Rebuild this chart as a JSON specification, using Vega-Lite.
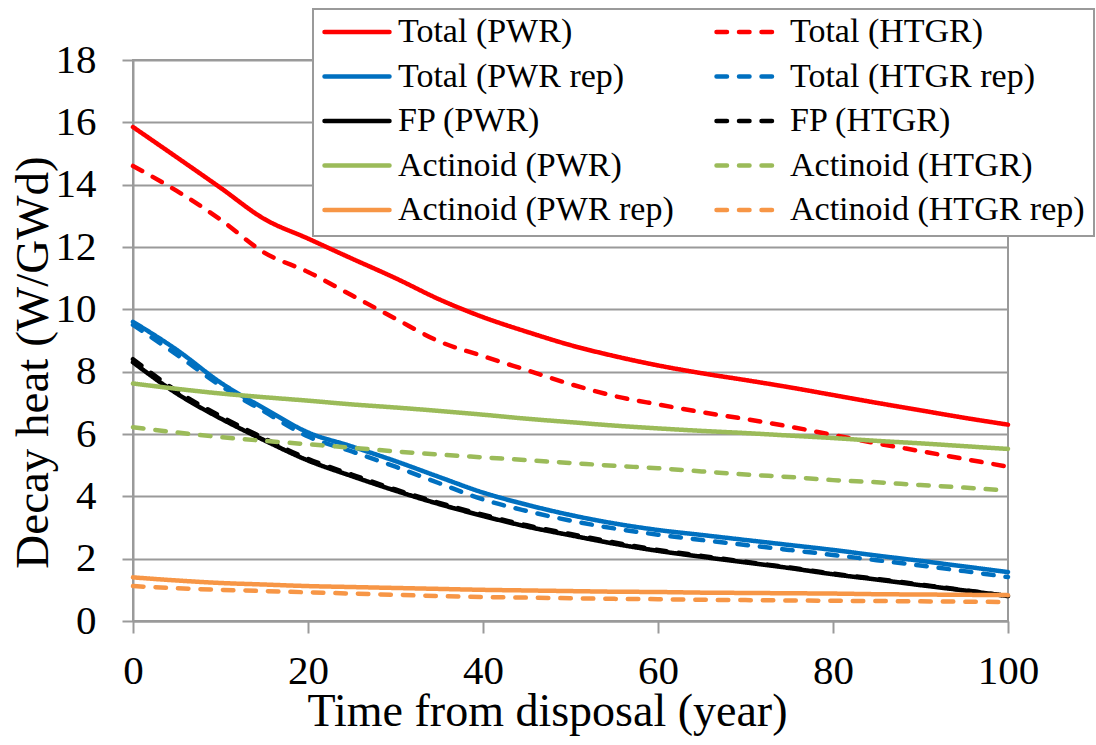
{
  "$schema": "https://vega.github.io/schema/vega-lite/v6.json",
  "width": 875,
  "height": 561,
  "autosize": {"type": "none"},
  "padding": {"left": 133, "top": 60, "right": 88, "bottom": 124},
  "background": "white",
  "config": {
    "font": "Times New Roman",
    "view": {"stroke": "#9a9a9a", "strokeWidth": 2}
  },
  "data": {"values": [
    {"t":0,"s":"Total (PWR)","v":15.85},{"t":5,"s":"Total (PWR)","v":14.88},{"t":10,"s":"Total (PWR)","v":13.9},{"t":15,"s":"Total (PWR)","v":12.9},{"t":20,"s":"Total (PWR)","v":12.27},{"t":25,"s":"Total (PWR)","v":11.63},{"t":30,"s":"Total (PWR)","v":11.0},{"t":35,"s":"Total (PWR)","v":10.32},{"t":40,"s":"Total (PWR)","v":9.75},{"t":45,"s":"Total (PWR)","v":9.28},{"t":50,"s":"Total (PWR)","v":8.85},{"t":55,"s":"Total (PWR)","v":8.5},{"t":60,"s":"Total (PWR)","v":8.2},{"t":65,"s":"Total (PWR)","v":7.95},{"t":70,"s":"Total (PWR)","v":7.73},{"t":75,"s":"Total (PWR)","v":7.5},{"t":80,"s":"Total (PWR)","v":7.25},{"t":85,"s":"Total (PWR)","v":7.0},{"t":90,"s":"Total (PWR)","v":6.76},{"t":95,"s":"Total (PWR)","v":6.52},{"t":100,"s":"Total (PWR)","v":6.3},
    {"t":0,"s":"Total (HTGR)","v":14.6},{"t":5,"s":"Total (HTGR)","v":13.8},{"t":10,"s":"Total (HTGR)","v":12.88},{"t":15,"s":"Total (HTGR)","v":11.82},{"t":20,"s":"Total (HTGR)","v":11.2},{"t":25,"s":"Total (HTGR)","v":10.45},{"t":30,"s":"Total (HTGR)","v":9.7},{"t":35,"s":"Total (HTGR)","v":8.97},{"t":40,"s":"Total (HTGR)","v":8.5},{"t":45,"s":"Total (HTGR)","v":8.05},{"t":50,"s":"Total (HTGR)","v":7.6},{"t":55,"s":"Total (HTGR)","v":7.22},{"t":60,"s":"Total (HTGR)","v":6.95},{"t":65,"s":"Total (HTGR)","v":6.7},{"t":70,"s":"Total (HTGR)","v":6.48},{"t":75,"s":"Total (HTGR)","v":6.24},{"t":80,"s":"Total (HTGR)","v":5.97},{"t":85,"s":"Total (HTGR)","v":5.7},{"t":90,"s":"Total (HTGR)","v":5.45},{"t":95,"s":"Total (HTGR)","v":5.2},{"t":100,"s":"Total (HTGR)","v":4.95},
    {"t":0,"s":"Total (PWR rep)","v":9.6},{"t":5,"s":"Total (PWR rep)","v":8.7},{"t":10,"s":"Total (PWR rep)","v":7.65},{"t":15,"s":"Total (PWR rep)","v":6.82},{"t":20,"s":"Total (PWR rep)","v":6.05},{"t":25,"s":"Total (PWR rep)","v":5.6},{"t":30,"s":"Total (PWR rep)","v":5.13},{"t":35,"s":"Total (PWR rep)","v":4.62},{"t":40,"s":"Total (PWR rep)","v":4.12},{"t":45,"s":"Total (PWR rep)","v":3.73},{"t":50,"s":"Total (PWR rep)","v":3.4},{"t":55,"s":"Total (PWR rep)","v":3.13},{"t":60,"s":"Total (PWR rep)","v":2.92},{"t":65,"s":"Total (PWR rep)","v":2.76},{"t":70,"s":"Total (PWR rep)","v":2.6},{"t":75,"s":"Total (PWR rep)","v":2.44},{"t":80,"s":"Total (PWR rep)","v":2.28},{"t":85,"s":"Total (PWR rep)","v":2.1},{"t":90,"s":"Total (PWR rep)","v":1.93},{"t":95,"s":"Total (PWR rep)","v":1.75},{"t":100,"s":"Total (PWR rep)","v":1.57},
    {"t":0,"s":"Total (HTGR rep)","v":9.5},{"t":5,"s":"Total (HTGR rep)","v":8.55},{"t":10,"s":"Total (HTGR rep)","v":7.55},{"t":15,"s":"Total (HTGR rep)","v":6.72},{"t":20,"s":"Total (HTGR rep)","v":5.92},{"t":25,"s":"Total (HTGR rep)","v":5.44},{"t":30,"s":"Total (HTGR rep)","v":4.95},{"t":35,"s":"Total (HTGR rep)","v":4.42},{"t":40,"s":"Total (HTGR rep)","v":3.9},{"t":45,"s":"Total (HTGR rep)","v":3.53},{"t":50,"s":"Total (HTGR rep)","v":3.22},{"t":55,"s":"Total (HTGR rep)","v":2.97},{"t":60,"s":"Total (HTGR rep)","v":2.77},{"t":65,"s":"Total (HTGR rep)","v":2.6},{"t":70,"s":"Total (HTGR rep)","v":2.44},{"t":75,"s":"Total (HTGR rep)","v":2.28},{"t":80,"s":"Total (HTGR rep)","v":2.12},{"t":85,"s":"Total (HTGR rep)","v":1.95},{"t":90,"s":"Total (HTGR rep)","v":1.78},{"t":95,"s":"Total (HTGR rep)","v":1.6},{"t":100,"s":"Total (HTGR rep)","v":1.41},
    {"t":0,"s":"FP (PWR)","v":8.3},{"t":5,"s":"FP (PWR)","v":7.3},{"t":10,"s":"FP (PWR)","v":6.5},{"t":15,"s":"FP (PWR)","v":5.8},{"t":20,"s":"FP (PWR)","v":5.15},{"t":25,"s":"FP (PWR)","v":4.65},{"t":30,"s":"FP (PWR)","v":4.18},{"t":35,"s":"FP (PWR)","v":3.75},{"t":40,"s":"FP (PWR)","v":3.37},{"t":45,"s":"FP (PWR)","v":3.03},{"t":50,"s":"FP (PWR)","v":2.75},{"t":55,"s":"FP (PWR)","v":2.48},{"t":60,"s":"FP (PWR)","v":2.25},{"t":65,"s":"FP (PWR)","v":2.06},{"t":70,"s":"FP (PWR)","v":1.88},{"t":75,"s":"FP (PWR)","v":1.7},{"t":80,"s":"FP (PWR)","v":1.5},{"t":85,"s":"FP (PWR)","v":1.33},{"t":90,"s":"FP (PWR)","v":1.15},{"t":95,"s":"FP (PWR)","v":0.98},{"t":100,"s":"FP (PWR)","v":0.8},
    {"t":0,"s":"FP (HTGR)","v":8.4},{"t":5,"s":"FP (HTGR)","v":7.38},{"t":10,"s":"FP (HTGR)","v":6.57},{"t":15,"s":"FP (HTGR)","v":5.86},{"t":20,"s":"FP (HTGR)","v":5.2},{"t":25,"s":"FP (HTGR)","v":4.7},{"t":30,"s":"FP (HTGR)","v":4.22},{"t":35,"s":"FP (HTGR)","v":3.79},{"t":40,"s":"FP (HTGR)","v":3.41},{"t":45,"s":"FP (HTGR)","v":3.07},{"t":50,"s":"FP (HTGR)","v":2.79},{"t":55,"s":"FP (HTGR)","v":2.52},{"t":60,"s":"FP (HTGR)","v":2.28},{"t":65,"s":"FP (HTGR)","v":2.09},{"t":70,"s":"FP (HTGR)","v":1.9},{"t":75,"s":"FP (HTGR)","v":1.72},{"t":80,"s":"FP (HTGR)","v":1.52},{"t":85,"s":"FP (HTGR)","v":1.35},{"t":90,"s":"FP (HTGR)","v":1.17},{"t":95,"s":"FP (HTGR)","v":0.99},{"t":100,"s":"FP (HTGR)","v":0.8},
    {"t":0,"s":"Actinoid (PWR)","v":7.62},{"t":5,"s":"Actinoid (PWR)","v":7.45},{"t":10,"s":"Actinoid (PWR)","v":7.3},{"t":15,"s":"Actinoid (PWR)","v":7.18},{"t":20,"s":"Actinoid (PWR)","v":7.07},{"t":25,"s":"Actinoid (PWR)","v":6.95},{"t":30,"s":"Actinoid (PWR)","v":6.85},{"t":35,"s":"Actinoid (PWR)","v":6.74},{"t":40,"s":"Actinoid (PWR)","v":6.62},{"t":45,"s":"Actinoid (PWR)","v":6.49},{"t":50,"s":"Actinoid (PWR)","v":6.38},{"t":55,"s":"Actinoid (PWR)","v":6.27},{"t":60,"s":"Actinoid (PWR)","v":6.18},{"t":65,"s":"Actinoid (PWR)","v":6.1},{"t":70,"s":"Actinoid (PWR)","v":6.03},{"t":75,"s":"Actinoid (PWR)","v":5.95},{"t":80,"s":"Actinoid (PWR)","v":5.87},{"t":85,"s":"Actinoid (PWR)","v":5.78},{"t":90,"s":"Actinoid (PWR)","v":5.7},{"t":95,"s":"Actinoid (PWR)","v":5.61},{"t":100,"s":"Actinoid (PWR)","v":5.52},
    {"t":0,"s":"Actinoid (HTGR)","v":6.22},{"t":5,"s":"Actinoid (HTGR)","v":6.05},{"t":10,"s":"Actinoid (HTGR)","v":5.9},{"t":15,"s":"Actinoid (HTGR)","v":5.78},{"t":20,"s":"Actinoid (HTGR)","v":5.67},{"t":25,"s":"Actinoid (HTGR)","v":5.56},{"t":30,"s":"Actinoid (HTGR)","v":5.44},{"t":35,"s":"Actinoid (HTGR)","v":5.34},{"t":40,"s":"Actinoid (HTGR)","v":5.25},{"t":45,"s":"Actinoid (HTGR)","v":5.16},{"t":50,"s":"Actinoid (HTGR)","v":5.07},{"t":55,"s":"Actinoid (HTGR)","v":4.98},{"t":60,"s":"Actinoid (HTGR)","v":4.9},{"t":65,"s":"Actinoid (HTGR)","v":4.8},{"t":70,"s":"Actinoid (HTGR)","v":4.7},{"t":75,"s":"Actinoid (HTGR)","v":4.62},{"t":80,"s":"Actinoid (HTGR)","v":4.52},{"t":85,"s":"Actinoid (HTGR)","v":4.45},{"t":90,"s":"Actinoid (HTGR)","v":4.36},{"t":95,"s":"Actinoid (HTGR)","v":4.28},{"t":100,"s":"Actinoid (HTGR)","v":4.18},
    {"t":0,"s":"Actinoid (PWR rep)","v":1.4},{"t":5,"s":"Actinoid (PWR rep)","v":1.3},{"t":10,"s":"Actinoid (PWR rep)","v":1.22},{"t":15,"s":"Actinoid (PWR rep)","v":1.17},{"t":20,"s":"Actinoid (PWR rep)","v":1.12},{"t":25,"s":"Actinoid (PWR rep)","v":1.09},{"t":30,"s":"Actinoid (PWR rep)","v":1.06},{"t":35,"s":"Actinoid (PWR rep)","v":1.03},{"t":40,"s":"Actinoid (PWR rep)","v":1.0},{"t":45,"s":"Actinoid (PWR rep)","v":0.98},{"t":50,"s":"Actinoid (PWR rep)","v":0.96},{"t":55,"s":"Actinoid (PWR rep)","v":0.94},{"t":60,"s":"Actinoid (PWR rep)","v":0.93},{"t":65,"s":"Actinoid (PWR rep)","v":0.91},{"t":70,"s":"Actinoid (PWR rep)","v":0.9},{"t":75,"s":"Actinoid (PWR rep)","v":0.89},{"t":80,"s":"Actinoid (PWR rep)","v":0.88},{"t":85,"s":"Actinoid (PWR rep)","v":0.86},{"t":90,"s":"Actinoid (PWR rep)","v":0.85},{"t":95,"s":"Actinoid (PWR rep)","v":0.84},{"t":100,"s":"Actinoid (PWR rep)","v":0.83},
    {"t":0,"s":"Actinoid (HTGR rep)","v":1.12},{"t":5,"s":"Actinoid (HTGR rep)","v":1.05},{"t":10,"s":"Actinoid (HTGR rep)","v":1.0},{"t":15,"s":"Actinoid (HTGR rep)","v":0.96},{"t":20,"s":"Actinoid (HTGR rep)","v":0.92},{"t":25,"s":"Actinoid (HTGR rep)","v":0.88},{"t":30,"s":"Actinoid (HTGR rep)","v":0.84},{"t":35,"s":"Actinoid (HTGR rep)","v":0.8},{"t":40,"s":"Actinoid (HTGR rep)","v":0.77},{"t":45,"s":"Actinoid (HTGR rep)","v":0.75},{"t":50,"s":"Actinoid (HTGR rep)","v":0.73},{"t":55,"s":"Actinoid (HTGR rep)","v":0.71},{"t":60,"s":"Actinoid (HTGR rep)","v":0.7},{"t":65,"s":"Actinoid (HTGR rep)","v":0.68},{"t":70,"s":"Actinoid (HTGR rep)","v":0.67},{"t":75,"s":"Actinoid (HTGR rep)","v":0.66},{"t":80,"s":"Actinoid (HTGR rep)","v":0.65},{"t":85,"s":"Actinoid (HTGR rep)","v":0.64},{"t":90,"s":"Actinoid (HTGR rep)","v":0.63},{"t":95,"s":"Actinoid (HTGR rep)","v":0.62},{"t":100,"s":"Actinoid (HTGR rep)","v":0.61}
  ]},
  "mark": {"type": "line", "strokeWidth": 4.5, "strokeCap": "round", "interpolate": "monotone"},
  "encoding": {
    "x": {
      "field": "t", "type": "quantitative",
      "scale": {"domain": [0, 100], "nice": false},
      "axis": {
        "title": "Time from disposal (year)",
        "values": [0, 20, 40, 60, 80, 100],
        "grid": false,
        "labelFlush": false,
        "labelOverlap": false,
        "domainColor": "#9a9a9a", "domainWidth": 2,
        "tickColor": "#9a9a9a", "tickWidth": 2, "tickSize": 12,
        "labelFont": "Liberation Serif", "labelFontSize": 41, "labelColor": "black", "labelPadding": 18,
        "titleFont": "Liberation Serif", "titleFontSize": 46, "titleColor": "black", "titleFontWeight": "normal",
        "titleX": 414, "titleY": 104, "titleBaseline": "alphabetic", "titleAlign": "center"
      }
    },
    "y": {
      "field": "v", "type": "quantitative",
      "scale": {"domain": [0, 18], "nice": false},
      "axis": {
        "title": "Decay heat (W/GWd)",
        "values": [0, 2, 4, 6, 8, 10, 12, 14, 16, 18],
        "grid": true, "gridColor": "#9a9a9a", "gridWidth": 2,
        "domainColor": "#9a9a9a", "domainWidth": 2,
        "tickColor": "#9a9a9a", "tickWidth": 2, "tickSize": 11,
        "labelFont": "Liberation Serif", "labelFontSize": 41, "labelColor": "black", "labelPadding": 26,
        "titleFont": "Liberation Serif", "titleFontSize": 47, "titleColor": "black", "titleFontWeight": "normal",
        "titleX": -86, "titleY": 302, "titleBaseline": "alphabetic", "titleAlign": "center", "titleAngle": -90
      }
    },
    "color": {
      "field": "s", "type": "nominal",
      "scale": {
        "domain": ["Total (PWR)", "Total (PWR rep)", "FP (PWR)", "Actinoid (PWR)", "Actinoid (PWR rep)", "Total (HTGR)", "Total (HTGR rep)", "FP (HTGR)", "Actinoid (HTGR)", "Actinoid (HTGR rep)"],
        "range": ["#FF0000", "#0070C0", "#000000", "#9BBB59", "#F79646", "#FF0000", "#0070C0", "#000000", "#9BBB59", "#F79646"]
      },
      "legend": {
        "title": null,
        "orient": "none",
        "legendX": 180,
        "legendY": -51,
        "columns": 2,
        "symbolType": "stroke",
        "symbolSize": 4225,
        "symbolStrokeWidth": 4.5,
        "labelFont": "Times New Roman",
        "labelFontWeight": "normal",
        "labelFontSize": 34,
        "labelColor": "black",
        "labelOffset": 6,
        "labelLimit": 0,
        "columnPadding": 40,
        "rowPadding": 10.5,
        "clipHeight": 28,
        "padding": 9,
        "strokeColor": "#9a9a9a",
        "fillColor": "white",
        "encode": {
          "legend": {"update": {"strokeWidth": {"value": 2}}},
          "symbols": {"update": {"strokeCap": {"value": "round"}, "strokeDash": {"signal": "test(/HTGR/, datum.value) ? [10.5, 12] : [1, 0]"}}}
        }
      }
    },
    "strokeDash": {
      "field": "s", "type": "nominal",
      "scale": {
        "domain": ["Total (PWR)", "Total (PWR rep)", "FP (PWR)", "Actinoid (PWR)", "Actinoid (PWR rep)", "Total (HTGR)", "Total (HTGR rep)", "FP (HTGR)", "Actinoid (HTGR)", "Actinoid (HTGR rep)"],
        "range": [[1, 0], [1, 0], [1, 0], [1, 0], [1, 0], [10.5, 12], [10.5, 12], [10.5, 12], [10.5, 12], [10.5, 12]]
      },
      "legend": null
    }
  }
}
